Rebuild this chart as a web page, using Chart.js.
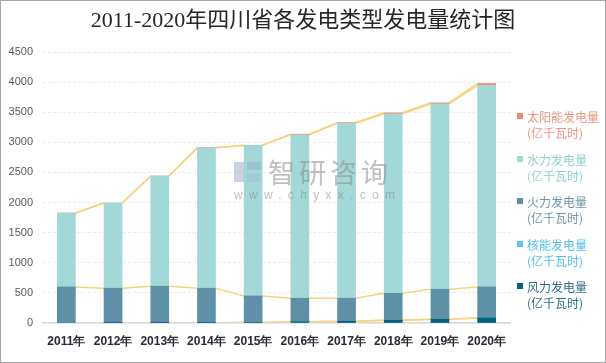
<!DOCTYPE html>
<html>
<head>
<meta charset="utf-8">
<script src="https://cdn.jsdelivr.net/npm/chart.js@4/dist/chart.umd.min.js"></script>
<style>
  html, body { margin: 0; padding: 0; background: #fff; }
  #wrap { position: relative; width: 606px; height: 363px; overflow: hidden; background: #fff; }
  #frame { position: absolute; left: 0; top: 0; width: 604px; height: 361px; border: 1px solid #a6a6a6; pointer-events: none; }
  #title { position: absolute; left: 0; top: 6px; width: 606px; text-align: center;
    font-family: "Liberation Serif", "Noto Sans CJK SC", serif; font-size: 22px; color: #262626; line-height: 28px; }
  #legend { position: absolute; left: 517px; top: 109px; font-family: "Noto Sans CJK SC", sans-serif; font-size: 12px; }
  .li { position: relative; height: 42.5px; }
  .li .box { position: absolute; left: 0; top: 4px; width: 6px; height: 6px; }
  .li .txt { position: absolute; left: 10px; top: 0; line-height: 16px; white-space: nowrap; }
  #wm { position: absolute; left: 232px; top: 156px; pointer-events: none; opacity: 0.55; }
  #wm .cn { position: absolute; left: 36px; top: 0; font-family: "Noto Sans CJK SC", sans-serif; font-size: 27px; color: #8c8c8c; letter-spacing: 4px; line-height: 32px; white-space: nowrap; }
  #wm .en { position: absolute; left: 2px; top: 32px; font-family: "Liberation Sans", sans-serif; font-size: 12px; color: #8c8c8c; letter-spacing: 6.3px; white-space: nowrap; }
  #wm .lg1 { position: absolute; left: 2px; top: 6px; width: 10px; height: 20px; background: #9fb0c8; }
  #wm .lg2 { position: absolute; left: 15px; top: 6px; width: 14px; height: 8px; background: #9fb0c8; }
  #wm .lg3 { position: absolute; left: 15px; top: 17px; width: 14px; height: 9px; background: #9cc3da; }
</style>
</head>
<body>
<div id="wrap">
  <canvas id="c" width="606" height="363"></canvas>
  <div id="title">2011-2020年四川省各发电类型发电量统计图</div>
  <div id="wm"><div class="lg1"></div><div class="lg2"></div><div class="lg3"></div><div class="cn">智研咨询</div><div class="en">www.chyxx.com</div></div>
  <div id="legend"></div>
  <div id="frame"></div>
</div>
<script>
// ---- data (亿千瓦时) ----
const categories = ['2011年','2012年','2013年','2014年','2015年','2016年','2017年','2018年','2019年','2020年'];
const windValues    = [0, 1, 2, 4, 10, 22, 30, 45, 62, 85];
const nuclearValues = [0, 0, 0, 0, 0, 0, 0, 0, 0, 0];
const thermalValues = [599, 576, 609, 573, 439, 389, 381, 449, 499, 514];
const hydroValues   = [1227, 1415, 1830, 2334, 2500, 2714, 2905, 2981, 3077, 3348];
const solarValues   = [0, 0, 0, 1, 3, 10, 12, 15, 18, 30];
const seriesNames = ['风力发电量', '核能发电量', '火力发电量', '水力发电量', '太阳能发电量'];
const unitLabel = '(亿千瓦时)';
const yMax = 4500, yStep = 500;

const colors = ['#00607E', '#5BC8F1', '#5E90A7', '#A2D8D5', '#EE8C73'];
const textColors = ['#2F6F88', '#4FC0EC', '#6D96AB', '#8ED2CE', '#EE9580'];
const seriesData = [windValues, nuclearValues, thermalValues, hydroValues, solarValues];

const datasets = seriesData.map((d, i) => ({
  label: seriesNames[i] + unitLabel,
  data: d,
  backgroundColor: colors[i],
  borderWidth: 0,
  barThickness: 18,
  stack: 's'
}));

// Series lines connecting the top of each stacked segment
const seriesLines = {
  id: 'seriesLines',
  beforeDatasetsDraw(chart) {
    const ctx = chart.ctx;
    const area = chart.chartArea;
    ctx.save();
    ctx.beginPath();
    ctx.rect(area.left, area.top - 2, area.right - area.left, area.bottom - area.top + 1);
    ctx.clip();
    ctx.strokeStyle = '#F9D37C';
    ctx.lineWidth = 1.5;
    chart.data.datasets.forEach((ds, di) => {
      const meta = chart.getDatasetMeta(di);
      for (let j = 0; j < meta.data.length - 1; j++) {
        const a = meta.data[j], b = meta.data[j + 1];
        ctx.beginPath();
        ctx.moveTo(a.x + a.width / 2, a.y);
        ctx.lineTo(b.x - b.width / 2, b.y);
        ctx.stroke();
      }
    });
    ctx.restore();
  }
};

new Chart(document.getElementById('c'), {
  type: 'bar',
  data: { labels: categories, datasets },
  options: {
    responsive: false,
    animation: false,
    devicePixelRatio: 1,
    layout: { padding: { left: 0, right: 96, top: 52, bottom: 0 } },
    plugins: { legend: { display: false }, title: { display: false }, tooltip: { enabled: false } },
    scales: {
      x: {
        stacked: true,
        grid: { display: false, drawTicks: false },
        border: { display: true, color: '#d9d9d9', width: 1.5 },
        ticks: { padding: 11, color: '#2b2b35', font: { family: 'Liberation Sans', size: 12, weight: 'bold' } },
        afterFit(s) { s.height = 40; }
      },
      y: {
        stacked: true,
        min: 0, max: yMax,
        ticks: { stepSize: yStep, padding: 10, color: '#595959', font: { family: 'Liberation Sans', size: 11 },
          callback: (v) => String(v) },
        grid: { color: '#ebebeb', drawTicks: false },
        border: { display: false, dash: [3, 2] },
        afterFit(s) { s.width = 43; }
      }
    }
  },
  plugins: [seriesLines]
});

// HTML legend (top to bottom: reverse of stacking order)
const lg = document.getElementById('legend');
for (let i = seriesNames.length - 1; i >= 0; i--) {
  const item = document.createElement('div');
  item.className = 'li';
  item.innerHTML = '<div class="box" style="background:' + colors[i] + '"></div>' +
    '<div class="txt" style="color:' + textColors[i] + '">' + seriesNames[i] + '<br>' + unitLabel + '</div>';
  lg.appendChild(item);
}
</script>
</body>
</html>
